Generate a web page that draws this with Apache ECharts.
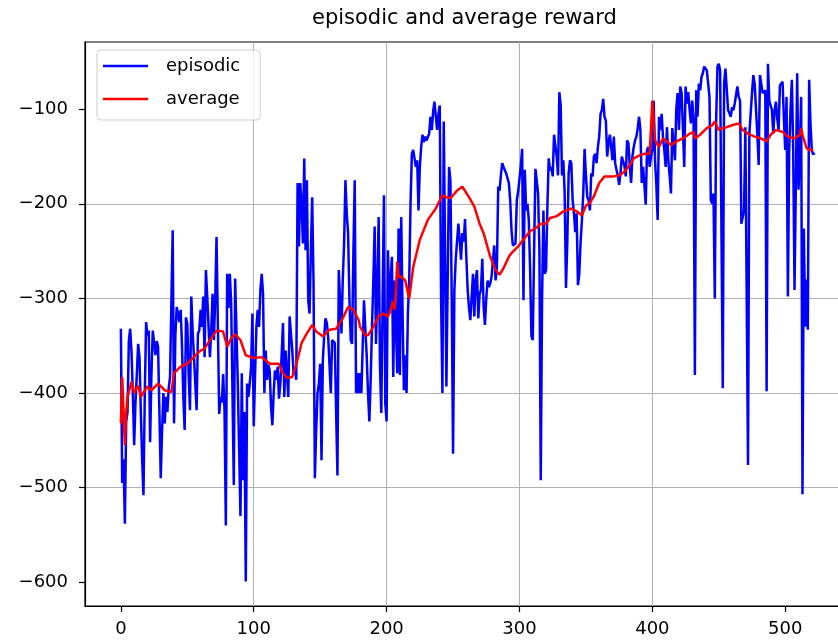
<!DOCTYPE html>
<html>
<head>
<meta charset="utf-8">
<title>episodic and average reward</title>
<script src="https://cdn.jsdelivr.net/npm/echarts@6/dist/echarts.min.js"></script>
<style>
  html, body { margin: 0; padding: 0; background: #fff; }
  #chart { width: 838px; height: 642px; }
</style>
</head>
<body>
<div id="chart"></div>
<script>
// Reward of every episode (index = episode number)
const episodicReward = [
  -332,-495,-470,-538,-430,-420,-345,-332,-356,-400,
  -455,-410,-380,-348,-362,-420,-470,-508,-400,-325,
  -340,-334,-452,-380,-334,-334,-360,-345,-351,-420,
  -490,-440,-400,-432,-404,-420,-395,-383,-305,-228,
  -432,-340,-309,-316,-325,-312,-350,-404,-439,-320,
  -327,-380,-418,-298,-334,-362,-390,-418,-337,-334,
  -312,-330,-298,-362,-270,-298,-330,-362,-334,-295,
  -344,-300,-235,-237,-422,-404,-410,-380,-418,-540,
  -274,-310,-274,-305,-400,-497,-279,-281,-390,-460,
  -530,-379,-492,-420,-599,-390,-404,-390,-372,-316,
  -435,-380,-330,-312,-330,-291,-274,-295,-400,-355,
  -386,-370,-376,-414,-434,-400,-376,-386,-372,-406,
  -390,-360,-326,-404,-355,-380,-404,-319,-319,-355,
  -380,-372,-386,-178,-245,-178,-200,-242,-152,-249,
  -175,-302,-316,-250,-193,-284,-490,-439,-400,-390,
  -369,-471,-365,-340,-321,-326,-340,-370,-400,-344,
  -344,-347,-420,-487,-270,-270,-337,-280,-242,-175,
  -210,-231,-300,-344,-348,-250,-175,-400,-379,-400,
  -379,-400,-350,-302,-333,-360,-400,-430,-386,-330,
  -281,-224,-348,-290,-214,-372,-421,-300,-191,-411,
  -430,-249,-316,-280,-256,-383,-281,-330,-379,-226,
  -381,-214,-316,-397,-360,-400,-316,-281,-200,-147,
  -143,-142,-161,-154,-207,-161,-140,-127,-135,-129,
  -133,-135,-126,-108,-122,-103,-92,-94,-122,-105,
  -96,-300,-400,-113,-113,-393,-393,-161,-175,-300,
  -464,-291,-259,-240,-221,-238,-259,-231,-240,-216,
  -256,-291,-310,-323,-323,-274,-319,-281,-270,-321,
  -295,-291,-258,-309,-328,-300,-281,-288,-284,-277,
  -260,-244,-281,-267,-182,-186,-170,-157,-161,-161,
  -168,-170,-178,-196,-228,-244,-244,-242,-196,-187,
  -186,-160,-142,-302,-164,-207,-200,-217,-270,-340,
  -344,-250,-163,-164,-189,-249,-492,-300,-207,-274,
  -270,-203,-152,-165,-161,-171,-127,-126,-150,-170,
  -82,-96,-170,-154,-189,-289,-240,-168,-154,-157,
  -196,-210,-230,-210,-286,-274,-240,-217,-189,-142,
  -170,-193,-196,-207,-168,-171,-150,-147,-157,-140,
  -129,-105,-101,-89,-108,-112,-150,-136,-127,-140,
  -154,-129,-157,-164,-170,-180,-168,-150,-150,-160,
  -171,-133,-136,-160,-178,-150,-140,-133,-129,-120,
  -108,-122,-178,-161,-180,-201,-143,-140,-161,-150,
  -143,-91,-154,-180,-217,-108,-122,-105,-130,-143,
  -161,-119,-154,-170,-189,-120,-122,-154,-100,-83,
  -122,-76,-83,-120,-161,-76,-94,-82,-100,-115,
  -91,-110,-381,-80,-108,-73,-80,-66,-62,-55,
  -55,-59,-59,-87,-196,-200,-189,-300,-112,-55,
  -52,-59,-59,-395,-73,-57,-59,-101,-101,-108,
  -98,-101,-94,-94,-76,-87,-91,-221,-221,-207,
  -119,-119,-476,-126,-126,-83,-64,-73,-100,-126,
  -159,-64,-62,-83,-83,-80,-398,-52,-91,-91,
  -101,-126,-101,-92,-110,-122,-75,-73,-71,-110,
  -143,-87,-298,-143,-100,-69,-143,-291,-180,-62,
  -185,-143,-87,-507,-226,-330,-280,-333,-69,-115,
  -143,-148,-146
];

// Running average reward, sampled at these episodes
const avgEpisode = [
  0,1,2,3,4,5,8,10,13,15,
  20,23,28,33,38,40,45,50,55,59,
  63,67,72,77,80,83,86,90,94,100,
  106,112,119,121,125,129,132,136,140,144,
  147,152,157,162,167,171,175,179,180,184,
  186,190,194,197,201,203,205,206,207,208,
  209,211,214,217,220,225,231,237,242,245,
  248,250,253,257,262,266,270,273,278,282,
  285,288,292,294,299,304,308,313,316,320,
  323,328,333,339,343,347,350,353,356,360,
  364,368,371,375,379,383,386,390,394,398,
  399,400,401,402,405,408,411,414,418,423,
  428,431,432,436,441,445,447,450,453,456,
  460,465,468,472,477,482,486,489,493,498,
  502,507,511,512,513,516,518,521
];
const avgReward = [
  -432,-383,-420,-455,-420,-404,-388,-400,-392,-404,
  -393,-397,-390,-397,-399,-379,-372,-369,-362,-356,
  -353,-344,-334,-335,-351,-342,-338,-344,-360,-363,
  -362,-369,-369,-377,-384,-383,-370,-347,-337,-328,
  -335,-340,-333,-332,-321,-309,-312,-323,-330,-339,
  -339,-330,-319,-316,-319,-312,-303,-312,-290,-261,
  -277,-277,-281,-300,-267,-238,-217,-205,-191,-193,
  -194,-191,-186,-182,-193,-203,-221,-231,-256,-270,
  -275,-268,-256,-252,-245,-236,-229,-225,-221,-221,
  -215,-213,-208,-205,-208,-212,-202,-199,-192,-178,
  -171,-171,-171,-170,-166,-159,-152,-149,-147,-147,
  -145,-91,-93,-133,-140,-131,-134,-138,-134,-131,
  -126,-124,-131,-127,-120,-117,-113,-122,-120,-119,
  -117,-115,-122,-126,-129,-131,-134,-127,-122,-124,
  -129,-131,-127,-120,-127,-141,-143,-143
];

const xTicks = [0, 100, 200, 300, 400, 500];
const yTicks = [-600, -500, -400, -300, -200, -100];

const FONT = 'DejaVu Sans';
const chart = echarts.init(document.getElementById('chart'), null, { renderer: 'canvas' });

const episodicData = episodicReward.map((v, i) => [i, v]);
const averageData = avgEpisode.map((e, i) => [e, avgReward[i]]);
const minusLabel = v => (v < 0 ? '\u2212' + Math.abs(v) : String(v));

chart.setOption({
  animation: false,
  backgroundColor: '#ffffff',
  title: {
    text: 'episodic and average reward',
    left: 312,
    top: 8,
    padding: 0,
    textStyle: { fontFamily: FONT, fontSize: 21, fontWeight: 'normal', color: '#000' }
  },
  grid: {
    left: 85, right: -11, top: 42, bottom: 36,
    show: true, borderColor: '#000', borderWidth: 1.2,
    backgroundColor: 'transparent',
    containLabel: false,
    outerBoundsMode: 'none'
  },
  legend: {
    orient: 'vertical',
    left: 97, top: 50,
    padding: [7, 20, 12, 6],
    itemWidth: 45, itemHeight: 2.5, itemGap: 15,
    icon: 'rect',
    backgroundColor: 'rgba(255,255,255,0.8)',
    borderColor: '#cccccc', borderWidth: 1, borderRadius: 4,
    textStyle: { fontFamily: FONT, fontSize: 18, lineHeight: 18, color: '#000', padding: [0, 0, 0, 13] },
    data: ['episodic', 'average']
  },
  xAxis: {
    type: 'value',
    min: -27, max: 548, splitNumber: 5,
    axisLine: { show: true, onZero: false, lineStyle: { color: '#000', width: 1.2 } },
    axisTick: { show: true, inside: false, length: 6, customValues: xTicks, lineStyle: { color: '#000', width: 1.2 } },
    axisLabel: { customValues: xTicks, margin: 14, fontFamily: FONT, fontSize: 18, color: '#000' },
    splitLine: { show: true, showMinLine: false, showMaxLine: false, lineStyle: { color: '#b0b0b0', width: 1 } }
  },
  yAxis: {
    type: 'value',
    min: -625, max: -29, splitNumber: 5,
    axisLine: { show: true, onZero: false, lineStyle: { color: '#000', width: 1.2 } },
    axisTick: { show: true, inside: false, length: 6, customValues: yTicks, lineStyle: { color: '#000', width: 1.2 } },
    axisLabel: { customValues: yTicks, margin: 17, fontFamily: FONT, fontSize: 18, color: '#000', formatter: minusLabel },
    splitLine: { show: true, showMinLine: false, showMaxLine: false, lineStyle: { color: '#b0b0b0', width: 1 } }
  },
  series: [
    {
      name: 'episodic', type: 'line', data: episodicData,
      showSymbol: false, symbol: 'none',
      color: '#0000ff',
      lineStyle: { color: '#0000ff', width: 2.5 },
      z: 2
    },
    {
      name: 'average', type: 'line', data: averageData,
      showSymbol: false, symbol: 'none',
      color: '#ff0000',
      lineStyle: { color: '#ff0000', width: 2.5 },
      z: 3
    }
  ]
});
</script>
</body>
</html>
